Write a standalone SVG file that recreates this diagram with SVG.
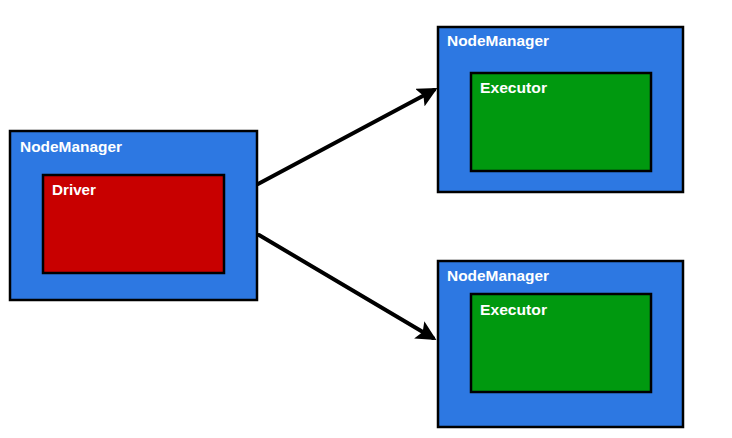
<svg xmlns="http://www.w3.org/2000/svg" width="732" height="438" viewBox="0 0 732 438">
<style>
.outer{fill:#2d78e2;stroke:#000;stroke-width:2.5}
.drv{fill:#c80000;stroke:#000;stroke-width:2.5}
.exe{fill:#00990f;stroke:#000;stroke-width:2.5}
.lbl{fill:#fff;font-family:"Liberation Sans",Arial,sans-serif;font-size:15px;font-weight:bold}
.conn{stroke:#000;stroke-width:4;fill:none;stroke-linecap:round}
</style>
<defs>
<marker id="ah" markerWidth="5" markerHeight="5" refX="4" refY="2.5" orient="auto" markerUnits="strokeWidth">
<path d="M0,0 L5,2.5 L0,5 L1,2.5 Z" fill="#000"/>
</marker>
</defs>
<rect width="732" height="438" fill="#fff"/>
<g id="nm-driver">
<rect class="outer" x="10" y="131" width="247" height="169"/>
<text class="lbl" x="20" y="152" textLength="102" lengthAdjust="spacingAndGlyphs">NodeManager</text>
<g id="driver">
<rect class="drv" x="43" y="175" width="181" height="98"/>
<text class="lbl" x="52" y="195" textLength="44" lengthAdjust="spacingAndGlyphs">Driver</text>
</g>
</g>
<g id="nm-exec1">
<rect class="outer" x="438" y="27" width="245" height="165"/>
<text class="lbl" x="447" y="46" textLength="102" lengthAdjust="spacingAndGlyphs">NodeManager</text>
<g id="exec1">
<rect class="exe" x="471" y="73" width="180" height="98"/>
<text class="lbl" x="480" y="93" textLength="67" lengthAdjust="spacingAndGlyphs">Executor</text>
</g>
</g>
<g id="nm-exec2">
<rect class="outer" x="438" y="261" width="245" height="166"/>
<text class="lbl" x="447" y="281" textLength="102" lengthAdjust="spacingAndGlyphs">NodeManager</text>
<g id="exec2">
<rect class="exe" x="471" y="294" width="180" height="98"/>
<text class="lbl" x="480" y="315" textLength="67" lengthAdjust="spacingAndGlyphs">Executor</text>
</g>
</g>
<g id="connectors">
<path class="conn" d="M258,184 L434,90" marker-end="url(#ah)"/>
<path class="conn" d="M259,235 L433,338" marker-end="url(#ah)"/>
</g>
</svg>
